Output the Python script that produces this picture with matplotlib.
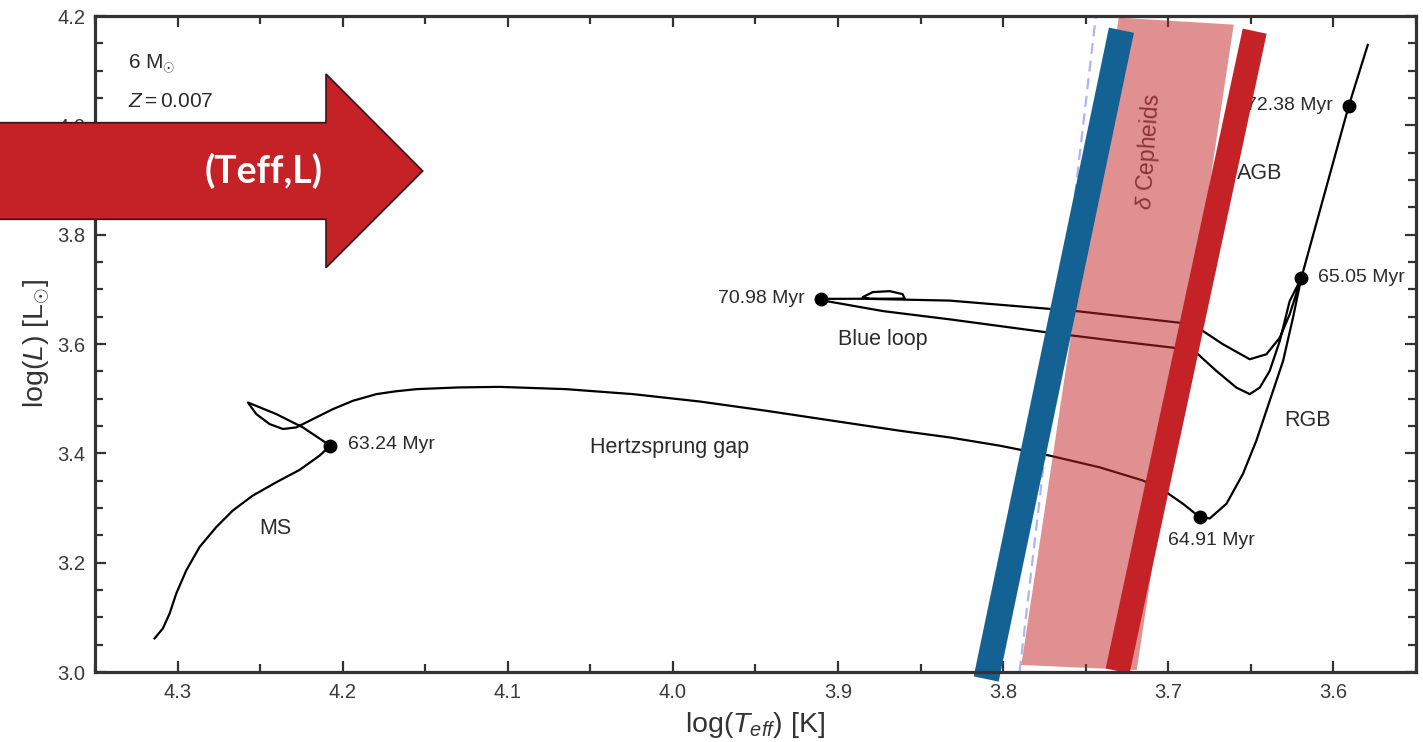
import matplotlib
matplotlib.use("Agg")
import matplotlib.pyplot as plt
import numpy as np
from matplotlib.patches import Polygon
from matplotlib.ticker import MultipleLocator

plt.rcParams['font.family'] = ['Liberation Sans', 'DejaVu Sans']
plt.rcParams['mathtext.fontset'] = 'custom'
plt.rcParams['mathtext.rm'] = 'Liberation Sans'
plt.rcParams['mathtext.it'] = 'Liberation Sans:italic'
plt.rcParams['mathtext.bf'] = 'Liberation Sans:bold'

# ---------------- data ----------------
# main sequence (ZAMS -> 63.24 Myr)
ms_logT = [4.3139, 4.3089, 4.3048, 4.3008, 4.2947, 4.2867, 4.2766, 4.2665,
           4.2544, 4.2402, 4.2261, 4.2140, 4.2075]
ms_logL = [3.0615, 3.0797, 3.1071, 3.1435, 3.1860, 3.2285, 3.2650, 3.2955,
           3.3228, 3.3471, 3.3697, 3.3958, 3.4140]
# hook + Hertzsprung gap (-> 64.91 Myr)
hg_logT = [4.2241, 4.2402, 4.2574, 4.2523, 4.2443, 4.2362, 4.2281, 4.2180,
           4.2059, 4.1938, 4.1796, 4.1680, 4.1554, 4.1304, 4.1050, 4.0647,
           4.0242, 3.9838, 3.9434, 3.9031, 3.8627, 3.8324, 3.8021, 3.7718,
           3.7416, 3.7153, 3.7012, 3.6911, 3.6810]
hg_logL = [3.4474, 3.4718, 3.4930, 3.4718, 3.4536, 3.4445, 3.4474, 3.4627,
           3.4809, 3.4961, 3.5083, 3.5134, 3.5174, 3.5205, 3.5216, 3.5174,
           3.5083, 3.4948, 3.4778, 3.4596, 3.4414, 3.4291, 3.4140, 3.3958,
           3.3744, 3.3502, 3.3288, 3.3077, 3.2832]
# red giant branch (-> 65.05 Myr)
rgb_logT = [3.6749, 3.6648, 3.6548, 3.6467, 3.6386, 3.6305, 3.6245, 3.6195]
rgb_logL = [3.2809, 3.3077, 3.3624, 3.4231, 3.4961, 3.5690, 3.6480, 3.7204]
# blue loop, outward (-> 70.98 Myr)
loop_out_logT = [3.6265, 3.6325, 3.6386, 3.6446, 3.6507, 3.6588, 3.6709,
                 3.6820, 3.6972, 3.7315, 3.7718, 3.8324, 3.8728, 3.9071, 3.9105]
loop_out_logL = [3.6785, 3.6055, 3.5508, 3.5203, 3.5083, 3.5203, 3.5508,
                 3.5812, 3.5933, 3.6055, 3.6206, 3.6451, 3.6602, 3.6785, 3.6830]
# blue loop, return
loop_back_logT = [3.9031, 3.8597, 3.8609, 3.8687, 3.8790, 3.8851, 3.8809,
                  3.8324, 3.7557, 3.6931, 3.6790, 3.6669, 3.6507, 3.6406,
                  3.6325, 3.6265, 3.6195]
loop_back_logL = [3.6826, 3.6830, 3.6912, 3.6967, 3.6949, 3.6857, 3.6825,
                  3.6794, 3.6602, 3.6389, 3.6237, 3.5995, 3.5721, 3.5812,
                  3.6115, 3.6542, 3.7204]
# asymptotic giant branch
agb_logT = [3.5907, 3.5792]
agb_logL = [4.0359, 4.1472]

# age markers
age_labels = ["63.24 Myr", "64.91 Myr", "65.05 Myr", "70.98 Myr", "72.38 Myr"]
age_logT = [4.2075, 3.6810, 3.6195, 3.9105, 3.5907]
age_logL = [3.4140, 3.2832, 3.7204, 3.6830, 4.0359]

# instability strip
blue_edge_logT = [3.8103, 3.7284]
blue_edge_logL = [2.9872, 4.1740]
red_edge_logT = [3.7307, 3.6477]
red_edge_logL = [3.0018, 4.1723]
strip_logT = [3.7890, 3.7191, 3.6604, 3.7300]
strip_logL = [3.0128, 3.0036, 4.1842, 4.1970]
dashed_logT = [3.7901, 3.7439]
dashed_logL = [3.0, 4.2]

xticks = [4.3, 4.2, 4.1, 4.0, 3.9, 3.8, 3.7, 3.6]
xticklabels = ["4.3", "4.2", "4.1", "4.0", "3.9", "3.8", "3.7", "3.6"]
yticks = [3.0, 3.2, 3.4, 3.6, 3.8, 4.0, 4.2]
yticklabels = ["3.0", "3.2", "3.4", "3.6", "3.8", "4.0", "4.2"]

# ---------------- figure ----------------
W, H = 1423, 742
fig = plt.figure(figsize=(W / 100, H / 100), dpi=100)
ax = fig.add_axes([95 / W, 1 - 672 / H, (1416 - 95) / W, (672 - 16) / H])
ax.set_xlim(4.35, 3.55)
ax.set_ylim(3.0, 4.2)

dark = '#333333'
for s in ax.spines.values():
    s.set_linewidth(2.3)
    s.set_color(dark)
    s.set_zorder(6)
ax.set_xticks(xticks)
ax.set_xticklabels(xticklabels)
ax.set_yticks(yticks)
ax.set_yticklabels(yticklabels)
ax.xaxis.set_minor_locator(MultipleLocator(0.05))
ax.yaxis.set_minor_locator(MultipleLocator(0.05))
ax.tick_params(which='both', direction='in', top=True, right=True,
               color=dark, labelcolor='#3a3a3a', labelsize=14.5, width=1.6)
ax.tick_params(which='major', length=8)
ax.tick_params(which='minor', length=5.5)
ax.tick_params(axis='x', pad=8)
ax.tick_params(axis='y', pad=7)

ax.set_xlabel(r'log($T_{eff}$) [K]', fontsize=20.5, color='#333333', labelpad=6)
ax.set_ylabel(r'log($L$) [L$_{\odot}$]', fontsize=20.5, color='#333333', labelpad=4)

# track
trk_T = ms_logT + hg_logT + rgb_logT + loop_out_logT + loop_back_logT + agb_logT
trk_L = ms_logL + hg_logL + rgb_logL + loop_out_logL + loop_back_logL + agb_logL
ax.plot(trk_T, trk_L, color='black', lw=1.6, zorder=2, solid_joinstyle='round')
ax.plot(age_logT, age_logL, 'o', color='black', ms=9, zorder=5)

# instability strip
ax.plot(dashed_logT, dashed_logL, color='#b3b3f2', lw=1.6, ls=(0, (5, 3)),
        zorder=2, clip_on=False)
ax.add_patch(Polygon(list(zip(strip_logT, strip_logL)), closed=True,
                     facecolor='#c42227', alpha=0.5, edgecolor='none',
                     zorder=3, clip_on=False))
ax.plot(blue_edge_logT, blue_edge_logL, color='#146293', lw=18.4,
        solid_capstyle='butt', zorder=4, clip_on=False)
ax.plot(red_edge_logT, red_edge_logL, color='#c42227', lw=17.6,
        solid_capstyle='butt', zorder=4, clip_on=False)

# texts
tc = '#2b2b2b'
ax.text(4.3303, 4.1107, r'6 M$_{\odot}$', fontsize=15, color=tc, va='center', ha='left')
ax.text(4.3303, 4.0432, r'$Z = 0.007$', fontsize=15, color=tc, va='center', ha='left')
ax.text(4.1970, 3.4158, age_labels[0], fontsize=14, color=tc, va='center', ha='left')
ax.text(3.7004, 3.2407, age_labels[1], fontsize=14, color=tc, va='center', ha='left')
ax.text(3.6095, 3.7222, age_labels[2], fontsize=14, color=tc, va='center', ha='left')
ax.text(3.9202, 3.6839, age_labels[3], fontsize=14, color=tc, va='center', ha='right')
ax.text(3.6004, 4.0359, age_labels[4], fontsize=14, color=tc, va='center', ha='right',
        zorder=2.5)
ax.text(3.9002, 3.6091, 'Blue loop', fontsize=15.5, color=tc, va='center', ha='left')
ax.text(4.0505, 3.4104, 'Hertzsprung gap', fontsize=15.5, color=tc, va='center', ha='left')
ax.text(4.2503, 3.2626, 'MS', fontsize=15.5, color=tc, va='center', ha='left')
ax.text(3.6586, 3.9119, 'AGB', fontsize=15.5, color=tc, va='center', ha='left', zorder=2.5)
ax.text(3.6295, 3.4596, 'RGB', fontsize=15.5, color=tc, va='center', ha='left')
ax.text(3.7119, 3.9520, r'$\delta$ Cepheids', fontsize=16.5, color='#8a3436',
        rotation=86, va='center', ha='center', zorder=6)

# overlay arrow (figure pixels -> figure fraction)
arrow_px = [(-5, 122.7), (326, 122.7), (326, 74), (422.7, 171),
            (326, 267.7), (326, 219.3), (-5, 219.3)]
arrow_fr = [(x / W, 1 - y / H) for x, y in arrow_px]
fig.patches.append(Polygon(arrow_fr, closed=True, transform=fig.transFigure,
                           facecolor='#c42227', edgecolor='#3a1414', lw=1.2,
                           zorder=10, figure=fig))
fig.text(264 / W, 1 - 171 / H, '(Teff,L)', fontsize=27, fontweight='bold',
         family=['Lato', 'DejaVu Sans'], color='white', ha='center', va='center',
         zorder=11)

fig.savefig('out.png', dpi=100)
